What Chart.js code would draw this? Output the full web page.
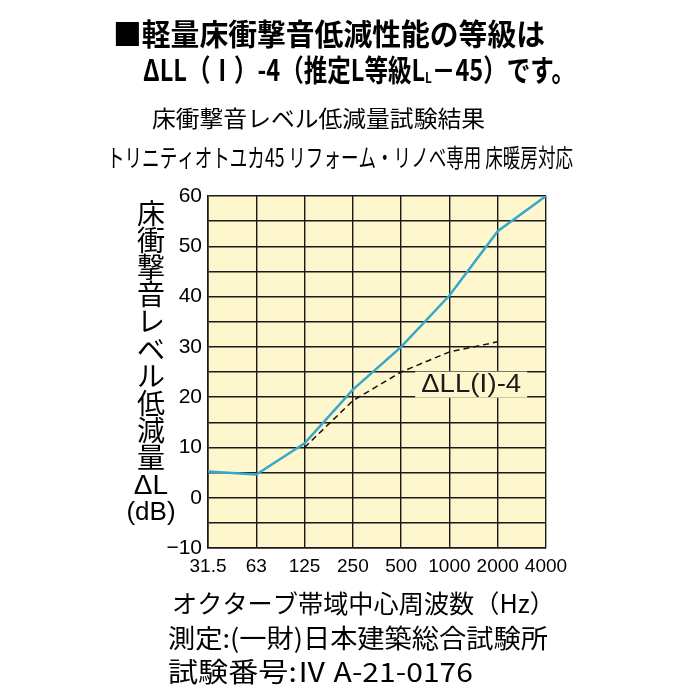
<!DOCTYPE html>
<html>
<head>
<meta charset="utf-8">
<script src="https://cdn.jsdelivr.net/npm/chart.js@4/dist/chart.umd.min.js"></script>
<style>
  html, body { margin: 0; padding: 0; background: #fff; }
  #wrap { width: 700px; height: 700px; }
</style>
</head>
<body>
<div id="wrap"><canvas id="myChart" width="700" height="700"></canvas></div>
<script>
// octave band centre frequencies (Hz)
var freqLabels = ['31.5', '63', '125', '250', '500', '1000', '2000', '4000'];

// measured reduction (dB)
var measured = [5.2, 4.6, 10.8, 21.5, 30, 40.2, 53, 60];

// reference curve for grade ΔLL(I)-4
var gradeCurve = [null, null, 10, 19.3, 25, 29, 31, null];
var gradeLabel = 'ΔLL(Ⅰ)-4';

// grid rows every 5 dB, labels every 10 dB
var yGrid = [-10, -5, 0, 5, 10, 15, 20, 25, 30, 35, 40, 45, 50, 55, 60];
var yTicks = [-10, 0, 10, 20, 30, 40, 50, 60];

var titleLine1 = '■軽量床衝撃音低減性能の等級は';
var titleLine2 = ['ΔLL（Ⅰ）-4（推定L等級L', 'L', '－45）です。'];
var subTitle1 = '床衝撃音レベル低減量試験結果';
var subTitle2 = 'トリニティオトユカ45 リフォーム・リノベ専用 床暖房対応';
var yTitle = ['床', '衝', '撃', '音', 'レ', 'ベ', 'ル', '低', '減', '量', 'ΔL', '(dB)'];
var xTitle = 'オクターブ帯域中心周波数（Hz）';
var note1 = '測定:(一財)日本建築総合試験所';
var note2 = '試験番号:Ⅳ A-21-0176';

var jp = '"Noto Sans CJK JP", sans-serif';
var num = '"Liberation Sans", "Noto Sans CJK JP", sans-serif';
var cream = '#fef6cc';
var ink = '#1a1a1a';

// draw text squeezed to a given width, left aligned
function drawFit(c, text, x, y, font, width){
  c.save();
  c.font = font;
  var w = c.measureText(text).width;
  var sx = width ? width / w : 1;
  c.translate(x, y);
  c.scale(sx, 1);
  c.textAlign = 'left';
  c.textBaseline = 'middle';
  c.fillText(text, 0, 0);
  c.restore();
}

var bgPlugin = {
  id: 'bg',
  beforeDraw: function(chart){
    var a = chart.chartArea;
    var c = chart.ctx;
    c.save();
    c.fillStyle = cream;
    c.fillRect(a.left, a.top, a.right - a.left, a.bottom - a.top);
    c.restore();
  }
};

var textPlugin = {
  id: 'texts',
  afterDatasetsDraw: function(chart){
    var c = chart.ctx;
    var xs = chart.scales.x, ys = chart.scales.y;
    // label for the grade curve
    c.save();
    var cx = xs.getPixelForValue(5.45), cy = ys.getPixelForValue(22.5);
    c.fillStyle = cream;
    c.fillRect(cx - 56, cy - 13, 112, 26);
    c.fillStyle = ink;
    drawFit(c, gradeLabel, cx - 50, cy + 1, '25px "Liberation Sans", "DejaVu Sans", sans-serif', 100);
    c.restore();
  },
  afterDraw: function(chart){
    var c = chart.ctx;
    c.save();
    c.fillStyle = '#000';
    drawFit(c, titleLine1, 113, 34, 'bold 30px ' + jp, 432);

    // second title line with the small subscript L
    var f1 = 'bold 30px ' + jp, f2 = 'bold 15px ' + jp;
    c.font = f1;
    var w1 = c.measureText(titleLine2[0]).width;
    var w3 = c.measureText(titleLine2[2]).width;
    c.font = f2;
    var w2 = c.measureText(titleLine2[1]).width;
    var sx = 432 / (w1 + w2 + w3);
    c.save();
    c.translate(143, 70);
    c.scale(sx, 1);
    c.textBaseline = 'middle';
    c.font = f1;
    c.fillText(titleLine2[0], 0, 0);
    c.font = f2;
    c.fillText(titleLine2[1], w1, 7);
    c.font = f1;
    c.fillText(titleLine2[2], w1 + w2, 0);
    c.restore();

    drawFit(c, subTitle1, 152, 118, '23px ' + jp, 333);
    drawFit(c, subTitle2, 107, 157, '25px ' + jp, 466);

    // stacked y axis title
    c.textAlign = 'center';
    c.textBaseline = 'middle';
    for (var i = 0; i < yTitle.length; i++) {
      var t = yTitle[i];
      var yy = 213 + i * 27.2;
      if (t === '(dB)') {
        c.font = '26px "Liberation Sans", sans-serif';
        c.fillText(t, 151, yy + 1);
      } else if (t === 'ΔL') {
        c.font = '28px "Liberation Sans", sans-serif';
        c.fillText(t, 151, yy + 1);
      } else {
        c.font = '28px ' + jp;
        c.fillText(t, 151, yy);
      }
    }

    drawFit(c, xTitle, 172, 603, '25px ' + jp, 383);
    drawFit(c, note1, 168, 638, '26px ' + jp, 380);
    drawFit(c, note2, 168, 672, '27px ' + jp, 305);
    c.restore();
  }
};

window.onload = function(){
  var ctx = document.getElementById('myChart').getContext('2d');
  new Chart(ctx, {
    type: 'line',
    data: {
      labels: freqLabels,
      datasets: [
        {
          data: measured,
          borderColor: '#36a8cb',
          borderWidth: 2.5,
          pointRadius: 0,
          tension: 0,
          fill: false
        },
        {
          data: gradeCurve,
          borderColor: '#111',
          borderWidth: 1.5,
          borderDash: [6, 4],
          pointRadius: 0,
          tension: 0,
          fill: false
        }
      ]
    },
    options: {
      responsive: false,
      animation: false,
      layout: { padding: { top: 196, right: 154, left: 0, bottom: 0 } },
      plugins: { legend: { display: false }, title: { display: false }, tooltip: { enabled: false } },
      scales: {
        x: {
          offset: false,
          afterFit: function(s){ s.height = 152; },
          grid: { color: ink, lineWidth: 1.4, drawTicks: false },
          border: { color: ink, width: 1.6 },
          ticks: { color: '#000', font: { family: num, size: 19 }, padding: 7, maxRotation: 0, autoSkip: false }
        },
        y: {
          min: -10,
          max: 60,
          afterFit: function(s){ s.width = 208; },
          afterBuildTicks: function(s){
            s.ticks = yGrid.map(function(v){ return { value: v }; });
          },
          grid: { color: ink, lineWidth: 1.4, drawTicks: false },
          border: { color: ink, width: 1.6 },
          ticks: {
            source: 'data',
            autoSkip: false,
            color: '#000',
            font: { family: num, size: 21, lineHeight: 1 },
            padding: 6,
            callback: function(v){
              if (yTicks.indexOf(v) < 0) return '';
              return v < 0 ? '−' + (-v) : String(v);
            }
          }
        }
      }
    },
    plugins: [bgPlugin, textPlugin]
  });
};
</script>
</body>
</html>
